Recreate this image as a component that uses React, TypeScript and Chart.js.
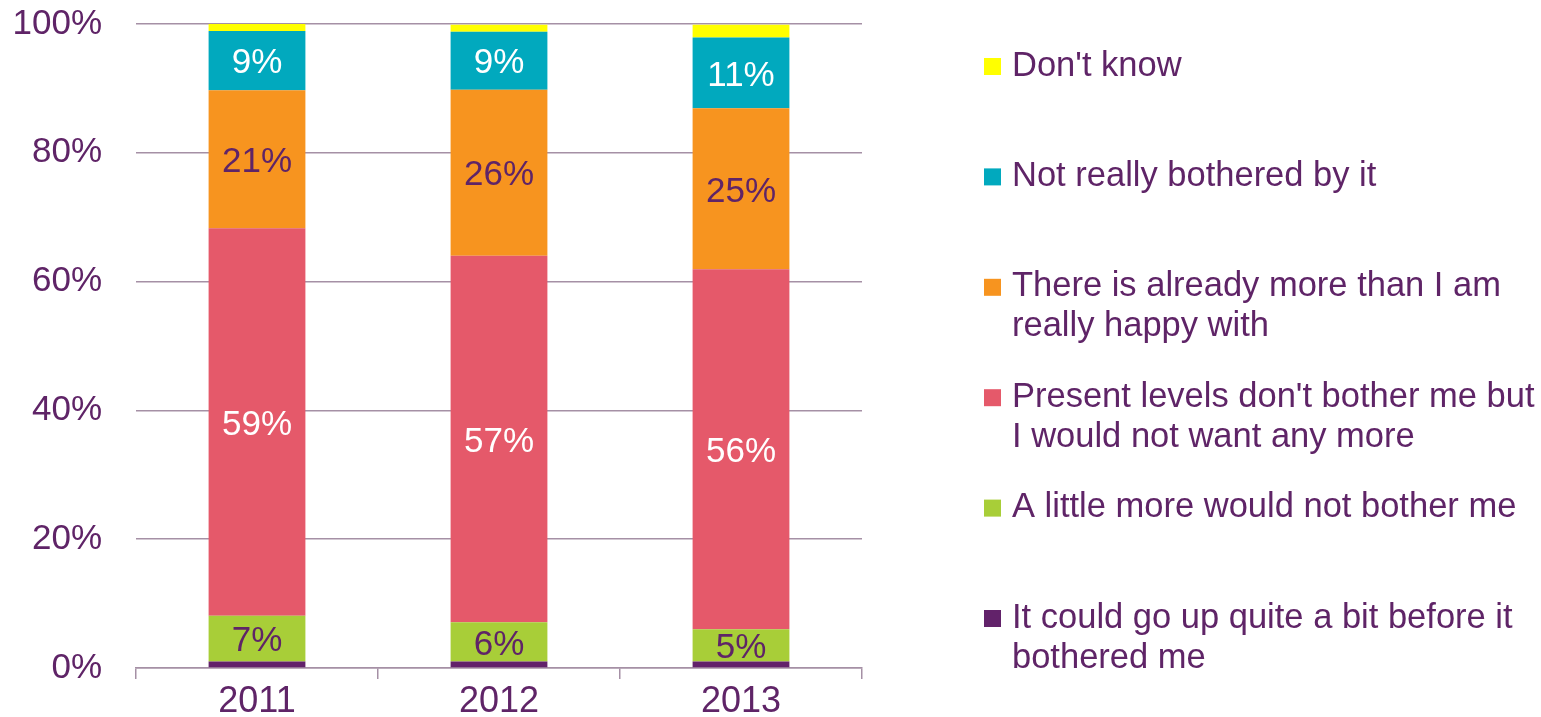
import React, { useEffect, useRef } from "react";
import { Chart, registerables } from "chart.js";

Chart.register(...registerables);

const categories = ["2011", "2012", "2013"];

// stacked bottom-up
const couldGoUp = [1.0, 1.0, 1.0];
const littleMore = [7.1, 6.1, 5.0];
const presentLevels = [60.2, 56.9, 55.9];
const alreadyMore = [21.4, 25.8, 25.0];
const notBothered = [9.2, 9.0, 11.0];
const dontKnow = [1.1, 1.1, 2.0];

// printed labels
const littleMoreLabels = [7, 6, 5];
const presentLevelsLabels = [59, 57, 56];
const alreadyMoreLabels = [21, 26, 25];
const notBotheredLabels = [9, 9, 11];

const yTicks = [0, 20, 40, 60, 80, 100];

const legendItems = [
  { lines: ["Don't know"], color: "#FFFF00" },
  { lines: ["Not really bothered by it"], color: "#01A9BE" },
  { lines: ["There is already more than I am", "really happy with"], color: "#F7941F" },
  { lines: ["Present levels don't bother me but", "I would not want any more"], color: "#E5596A" },
  { lines: ["A little more would not bother me"], color: "#A8CE38" },
  { lines: ["It could go up quite a bit before it", "bothered me"], color: "#62226A" },
];

const TEXT = "#5F2467";
const GRID = "#A590A5";
const FONT = "'Liberation Sans', Arial, sans-serif";

const dataLabelPlugin = {
  id: "dataLabels",
  afterDatasetsDraw(chart: any) {
    const ctx = chart.ctx;
    ctx.save();
    ctx.font = `35px ${FONT}`;
    ctx.textAlign = "center";
    ctx.textBaseline = "middle";
    chart.data.datasets.forEach((ds: any, di: number) => {
      if (!ds.printed) return;
      const meta = chart.getDatasetMeta(di);
      meta.data.forEach((el: any, i: number) => {
        const y = (el.y + el.base) / 2;
        ctx.fillStyle = ds.labelColor;
        ctx.fillText(ds.printed[i] + "%", el.x, y + 3);
      });
    });
    ctx.restore();
  },
};

const legendPlugin = {
  id: "sideLegend",
  afterDraw(chart: any) {
    const ctx = chart.ctx;
    ctx.save();
    ctx.font = `34.5px ${FONT}`;
    ctx.textAlign = "left";
    ctx.textBaseline = "middle";
    legendItems.forEach((item, i) => {
      const y0 = 66 + i * 110.4;
      ctx.fillStyle = item.color;
      ctx.fillRect(984, y0 - 8, 17, 17);
      ctx.fillStyle = TEXT;
      item.lines.forEach((line, j) => {
        ctx.fillText(line, 1012, y0 + j * 40);
      });
    });
    ctx.restore();
  },
};

export default function App() {
  const ref = useRef<HTMLCanvasElement>(null);
  useEffect(() => {
    document.body.style.margin = "0";
    const chart = new Chart(ref.current!, {
      type: "bar",
      data: {
        labels: categories,
        datasets: [
          { label: "It could go up quite a bit before it bothered me", data: couldGoUp, backgroundColor: "#62226A" },
          { label: "A little more would not bother me", data: littleMore, backgroundColor: "#A8CE38", printed: littleMoreLabels, labelColor: TEXT } as any,
          { label: "Present levels don't bother me but I would not want any more", data: presentLevels, backgroundColor: "#E5596A", printed: presentLevelsLabels, labelColor: "#FFFFFF" } as any,
          { label: "There is already more than I am really happy with", data: alreadyMore, backgroundColor: "#F7941F", printed: alreadyMoreLabels, labelColor: TEXT } as any,
          { label: "Not really bothered by it", data: notBothered, backgroundColor: "#01A9BE", printed: notBotheredLabels, labelColor: "#FFFFFF" } as any,
          { label: "Don't know", data: dontKnow, backgroundColor: "#FFFF00" },
        ],
      },
      options: {
        animation: false,
        responsive: false,
        datasets: { bar: { categoryPercentage: 1, barPercentage: 0.4, borderWidth: 0 } },
        layout: { padding: { left: 0, right: 679, top: 24, bottom: 0 } },
        plugins: { legend: { display: false }, tooltip: { enabled: false } },
        scales: {
          x: {
            stacked: true,
            offset: true,
            grid: { offset: true, drawOnChartArea: false, tickLength: 11, color: GRID, lineWidth: 1.5 },
            border: { display: true, color: GRID, width: 1.5 },
            ticks: { color: TEXT, font: { family: FONT, size: 36 }, padding: 1 },
            afterFit: (s: any) => { s.height = 49; s.paddingLeft = 0; s.paddingRight = 0; },
          },
          y: {
            stacked: true,
            min: 0,
            max: 100,
            afterBuildTicks: (s: any) => { s.ticks = yTicks.map((v) => ({ value: v })); },
            grid: { color: GRID, lineWidth: 1.5, drawTicks: false },
            border: { display: false },
            ticks: { color: TEXT, font: { family: FONT, size: 35 }, padding: 34, callback: (v: any) => v + "%" },
            afterFit: (s: any) => { s.width = 136; s.paddingTop = 0; s.paddingBottom = 0; },
          },
        },
      },
      plugins: [dataLabelPlugin, legendPlugin],
    });
    return () => chart.destroy();
  }, []);
  return (
    <div style={{ position: "relative", width: 1541, height: 717 }}>
      <canvas ref={ref} width={1541} height={717} style={{ display: "block" }} />
    </div>
  );
}
